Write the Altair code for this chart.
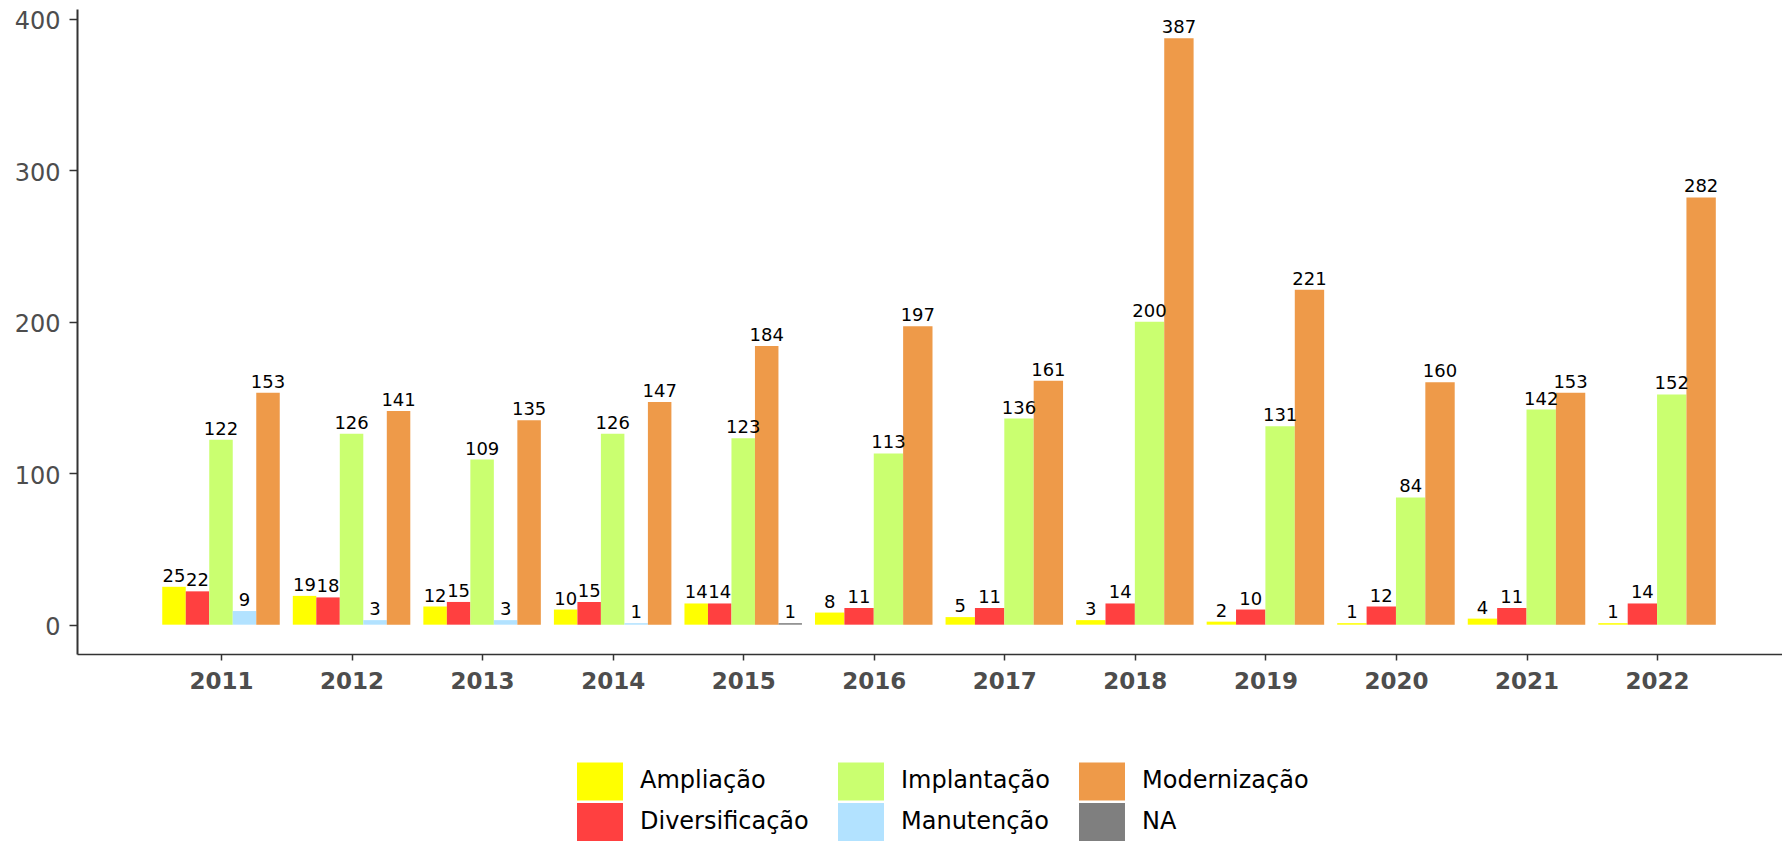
import altair as alt
import pandas as pd

anos = [2011, 2012, 2013, 2014, 2015, 2016, 2017, 2018, 2019, 2020, 2021, 2022]
ampliacao = [25, 19, 12, 10, 14, 8, 5, 3, 2, 1, 4, 1]
diversificacao = [22, 18, 15, 15, 14, 11, 11, 14, 10, 12, 11, 14]
implantacao = [122, 126, 109, 126, 123, 113, 136, 200, 131, 84, 142, 152]
manutencao = [9, 3, 3, 1, None, None, None, None, None, None, None, None]
modernizacao = [153, 141, 135, 147, 184, 197, 161, 387, 221, 160, 153, 282]
na = [None, None, None, None, 1, None, None, None, None, None, None, None]

categorias = ["Ampliação", "Diversificação", "Implantação", "Manutenção", "Modernização", "NA"]
series = [ampliacao, diversificacao, implantacao, manutencao, modernizacao, na]
cores = {
    "Ampliação": "#FFFF00",
    "Diversificação": "#FF4040",
    "Implantação": "#CAFF70",
    "Manutenção": "#B2E2FF",
    "Modernização": "#EE9A49",
    "NA": "#7F7F7F",
}
legenda_ordem = ["Ampliação", "Implantação", "Modernização", "Diversificação", "Manutenção", "NA"]

rows = []
for ci, (cat, vals) in enumerate(zip(categorias, series)):
    for ano, v in zip(anos, vals):
        if v is not None:
            rows.append({"ano": ano, "categoria": cat, "ordem": ci, "valor": v})
df = pd.DataFrame(rows)

FONT = "DejaVu Sans"
xscale = alt.Scale(domain=[2009.897, 2022.957], nice=False, zero=False)
yscale = alt.Scale(domain=[-19.35, 406.35], nice=False, zero=False)

base = (
    alt.Chart(df)
    .transform_window(idx="row_number()", groupby=["ano"], sort=[alt.SortField("ordem")])
    .transform_joinaggregate(n="count()", groupby=["ano"])
    .transform_calculate(x0="datum.ano - 0.45 + 0.9*(datum.idx-1)/datum.n")
    .transform_calculate(x1="datum.ano - 0.45 + 0.9*datum.idx/datum.n")
    .transform_calculate(xm="(datum.x0 + datum.x1)/2")
)

bars = base.mark_rect(strokeWidth=0).encode(
    x=alt.X(
        "x0:Q",
        scale=xscale,
        axis=alt.Axis(
            values=anos, format="d", title=None, grid=False,
            labelFont=FONT, labelFontSize=23, labelFontWeight="bold", labelColor="#4D4D4D",
            tickSize=6, tickColor="#333333", tickWidth=1.5, labelPadding=10,
            domainColor="#333333", domainWidth=1.5, labelFlush=False,
        ),
    ),
    x2="x1:Q",
    y=alt.Y(
        "valor:Q",
        scale=yscale,
        axis=alt.Axis(
            values=[0, 100, 200, 300, 400], title=None, grid=False,
            labelFont=FONT, labelFontSize=24, labelColor="#4D4D4D",
            tickSize=8, tickColor="#333333", tickWidth=1.5, labelPadding=9,
            labelOffset=3,
            domainColor="#333333", domainWidth=2, labelFlush=False,
        ),
    ),
    y2=alt.datum(0),
    color=alt.Color(
        "categoria:N",
        scale=alt.Scale(domain=legenda_ordem, range=[cores[c] for c in legenda_ordem]),
        legend=alt.Legend(
            title=None, orient="none", legendX=502, legendY=751, columns=3,
            direction="horizontal",
            symbolType="M-1.095,-0.905H1.095V0.905H-1.095Z", symbolSize=1764,
            symbolStrokeWidth=0, symbolOpacity=1,
            labelFont=FONT, labelFontSize=24, labelColor="#000000", labelOffset=19,
            columnPadding=29, rowPadding=0, padding=0, labelLimit=400,
        ),
    ),
)

labels = base.mark_text(
    font=FONT, fontSize=18, color="#000000", baseline="alphabetic", align="center", dy=-5
).encode(
    x=alt.X("xm:Q", scale=xscale, title=None),
    y=alt.Y("valor:Q", scale=yscale, title=None),
    text=alt.Text("valor:Q", format="d"),
)

chart = (
    alt.layer(bars, labels)
    .properties(
        width=1705, height=645, autosize="none",
        padding={"left": 69, "top": 1, "right": 0, "bottom": 188},
    )
    .configure(background="#FFFFFF")
    .configure_view(stroke="transparent", strokeWidth=0)
)

chart.save("out.html", embed_options={"renderer": "svg", "actions": False})
